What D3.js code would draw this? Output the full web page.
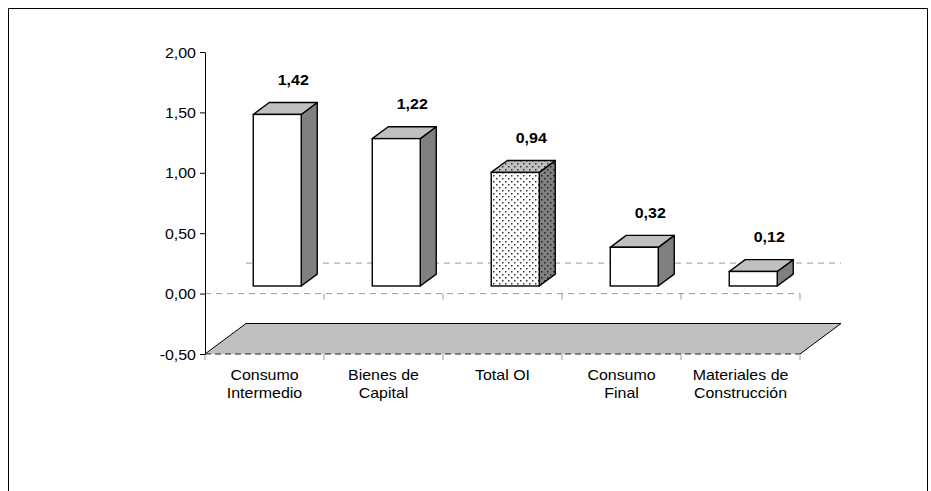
<!DOCTYPE html>
<html>
<head>
<meta charset="utf-8">
<script src="https://cdn.jsdelivr.net/npm/d3@7"></script>
<style>
  body { margin: 0; background: #fff; }
  svg text { font-family: Arial, "Liberation Sans", sans-serif; fill: #000; }
</style>
</head>
<body>
<div id="chart"></div>
<script>
const categories = ["Consumo\nIntermedio", "Bienes de\nCapital", "Total OI", "Consumo\nFinal", "Materiales de\nConstrucción"];
const values = [1.42, 1.22, 0.94, 0.32, 0.12];
const yTicks = [-0.5, 0, 0.5, 1, 1.5, 2];
const dottedCategory = "Total OI";

const width = 931, height = 491;
const stretch = 1.14; // text in the picture is a bit wider than normal
const fontSize = 14;
const depth = [41, -30.5]; // offset of the back of the floor
const barFront = 0.25, barBack = 0.64; // depth fraction of bar faces
const barWidth = 48, barGap = 38;

const fmt = v => d3.format(".2f")(v).replace(".", ",").replace("\u2212", "-");

const svg = d3.select("#chart")
    .append("svg")
    .attr("width", width)
    .attr("height", height);

svg.append("rect").attr("width", width).attr("height", height).attr("fill", "#fff");

// outer border
svg.append("path")
    .attr("d", "M8.5,491V8.5H927.5V491")
    .attr("fill", "none")
    .attr("stroke", "#000")
    .attr("stroke-width", 1);

const defs = svg.append("defs");
const addDots = (id, bg, dot) => {
    const p = defs.append("pattern")
        .attr("id", id)
        .attr("patternUnits", "userSpaceOnUse")
        .attr("width", 6).attr("height", 6);
    p.append("rect").attr("width", 6).attr("height", 6).attr("fill", bg);
    p.append("rect").attr("x", 1).attr("y", 1).attr("width", 1.5).attr("height", 1.5).attr("fill", dot);
    p.append("rect").attr("x", 4).attr("y", 4).attr("width", 1.5).attr("height", 1.5).attr("fill", dot);
};
addDots("dotFront", "#fff", "#333");
addDots("dotTop", "#c0c0c0", "#333");
addDots("dotSide", "#808080", "#222");

const y = d3.scaleLinear().domain([-0.5, 2]).range([354, 52]);
const x = d3.scaleBand().domain(categories).range([205, 800]).padding(0);

const off = f => [depth[0] * f, depth[1] * f];

// floor
const fl = off(1);
svg.append("path")
    .attr("d", `M205,${y(-0.5)}L${205 + fl[0]},${y(-0.5) + fl[1]}H${800 + fl[0]}L800,${y(-0.5)}`)
    .attr("fill", "#c0c0c0")
    .attr("stroke", "#000");

// floor front edge, dashed with category ticks
svg.append("line")
    .attr("x1", 205).attr("x2", 800)
    .attr("y1", y(-0.5)).attr("y2", y(-0.5))
    .attr("stroke", "#222").attr("stroke-dasharray", "6,4");
svg.selectAll(".ftick")
    .data(categories.map(c => x(c)).concat([800]))
    .join("line")
    .attr("x1", d => d).attr("x2", d => d)
    .attr("y1", y(-0.5)).attr("y2", y(-0.5) + 6)
    .attr("stroke", "#999");

// back wall zero line
svg.append("line")
    .attr("x1", 205 + fl[0]).attr("x2", 800 + fl[0])
    .attr("y1", y(0) + fl[1]).attr("y2", y(0) + fl[1])
    .attr("stroke", "#999").attr("stroke-dasharray", "6,5");

// front zero line with category ticks
svg.append("line")
    .attr("x1", 205).attr("x2", 800)
    .attr("y1", y(0)).attr("y2", y(0))
    .attr("stroke", "#999").attr("stroke-dasharray", "6,5");
svg.selectAll(".ztick")
    .data(categories.map(c => x(c)).slice(1).concat([800]))
    .join("line")
    .attr("x1", d => d).attr("x2", d => d)
    .attr("y1", y(0)).attr("y2", y(0) + 6)
    .attr("stroke", "#999");

// y axis
const yAxis = svg.append("g")
    .attr("transform", "translate(205,0)")
    .call(d3.axisLeft(y).tickValues(yTicks).tickFormat(fmt).tickSize(5).tickSizeOuter(0));
yAxis.select(".domain").attr("stroke", "#000");
yAxis.selectAll(".tick line").attr("stroke", "#000");
yAxis.selectAll(".tick text")
    .attr("x", null).attr("dy", null)
    .attr("transform", `translate(-9,0) scale(${stretch},1)`)
    .attr("dominant-baseline", "central")
    .attr("font-size", fontSize)
    .attr("font-family", 'Arial, "Liberation Sans", sans-serif');

// bars
const f0 = off(barFront), f1 = off(barBack);
const bars = svg.selectAll(".bar")
    .data(categories.map((c, i) => ({ c, v: values[i] })))
    .join("g");

bars.each(function (d) {
    const g = d3.select(this);
    const dotted = d.c === dottedCategory;
    const x0 = x(d.c) + barGap + f0[0];
    const x1 = x0 + barWidth;
    const yt = y(d.v) + f0[1];
    const yb = y(0) + f0[1];
    const dx = f1[0] - f0[0], dy = f1[1] - f0[1];
    g.append("path")
        .attr("d", `M${x1},${yb}V${yt}L${x1 + dx},${yt + dy}V${yb + dy}Z`)
        .attr("fill", dotted ? "url(#dotSide)" : "#808080")
        .attr("stroke", "#000").attr("stroke-width", 1.4).attr("stroke-linejoin", "round");
    g.append("path")
        .attr("d", `M${x0},${yt}L${x0 + dx},${yt + dy}H${x1 + dx}L${x1},${yt}Z`)
        .attr("fill", dotted ? "url(#dotTop)" : "#c0c0c0")
        .attr("stroke", "#000").attr("stroke-width", 1.4).attr("stroke-linejoin", "round");
    g.append("rect")
        .attr("x", x0).attr("y", yt)
        .attr("width", barWidth).attr("height", yb - yt)
        .attr("fill", dotted ? "url(#dotFront)" : "#fff")
        .attr("stroke", "#000").attr("stroke-width", 1.4);
    g.append("text")
        .attr("transform", `translate(${x0 + barWidth / 2 + dx},${yt + dy - 23}) scale(${stretch},1)`)
        .attr("text-anchor", "middle")
        .attr("dominant-baseline", "central")
        .attr("font-size", fontSize)
        .attr("font-weight", "bold")
        .text(fmt(d.v));
});

// category labels
svg.selectAll(".cat")
    .data(categories)
    .join("text")
    .attr("transform", d => `translate(${x(d) + x.bandwidth() / 2},380) scale(${stretch},1)`)
    .attr("text-anchor", "middle")
    .attr("font-size", fontSize)
    .selectAll("tspan")
    .data(d => d.split("\n"))
    .join("tspan")
    .attr("x", 0)
    .attr("dy", (d, i) => i ? 18 : 0)
    .text(d => d);
</script>
</body>
</html>
